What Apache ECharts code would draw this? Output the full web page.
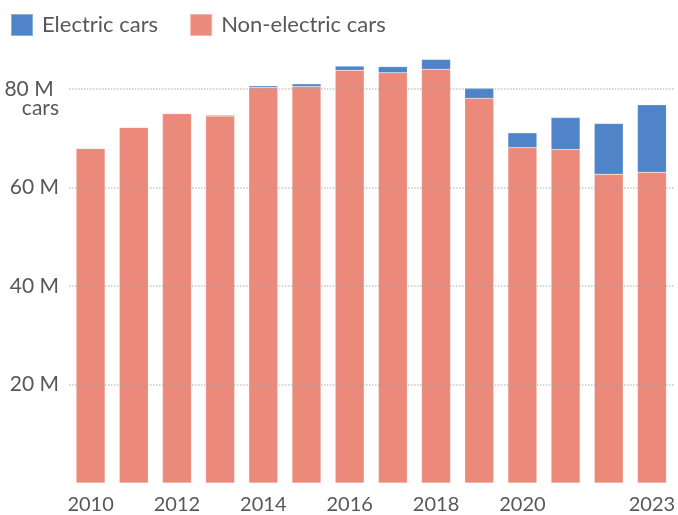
<!DOCTYPE html>
<html>
<head>
<meta charset="utf-8">
<title>Car sales</title>
<script src="https://cdn.jsdelivr.net/npm/echarts@6/dist/echarts.min.js"></script>
<style>
  html, body { margin: 0; padding: 0; background: #fff; }
  #main { width: 678px; height: 515px; }
</style>
</head>
<body>
<div id="main"></div>
<script>
  // values in millions of cars
  var years = ['2010', '2011', '2012', '2013', '2014', '2015', '2016',
               '2017', '2018', '2019', '2020', '2021', '2022', '2023'];
  var electric = [0.02, 0.05, 0.12, 0.2, 0.35, 0.55, 0.85, 1.25, 2.0, 2.05, 3.0, 6.5, 10.3, 13.7];
  var nonElectric = [67.9, 72.2, 75.0, 74.5, 80.3, 80.5, 83.8, 83.3, 84.0, 78.1, 68.1, 67.7, 62.7, 63.1];
  var shownYears = ['2010', '2012', '2014', '2016', '2018', '2020', '2023'];

  var textColor = '#585858';
  var chart = echarts.init(document.getElementById('main'));

  chart.setOption({
    animation: false,
    textStyle: { fontFamily: 'Lato' },
    legend: {
      left: 10,
      top: 13,
      padding: 0,
      itemWidth: 22,
      itemHeight: 22,
      itemGap: 31,
      icon: 'rect',
      textStyle: { color: textColor, fontSize: 22, fontFamily: 'Lato', padding: [0, 0, 0, 4] },
      data: ['Electric cars', 'Non-electric cars']
    },
    grid: { left: 69, right: 1, top: 89, bottom: 28, containLabel: false },
    xAxis: {
      type: 'category',
      data: years,
      axisLine: { show: false },
      axisTick: { show: false },
      axisLabel: {
        color: textColor,
        fontSize: 20,
        margin: 12,
        interval: function (i, v) { return shownYears.indexOf(v) >= 0; }
      }
    },
    yAxis: {
      type: 'value',
      min: 0,
      max: 80,
      interval: 20,
      z: 5,
      axisLine: { show: false },
      axisTick: { show: false },
      splitLine: {
        showMinLine: false,
        lineStyle: { color: 'rgba(160,160,160,0.6)', width: 1.5, type: [1.5, 1.5] }
      },
      axisLabel: {
        color: textColor,
        fontSize: 21,
        margin: 10,
        showMinLabel: false,
        formatter: function (v) {
          if (v === 0) return '';
          if (v === 80) return '{a| }\n{a|80 M }\n{a|cars}';
          return '{a|' + v + ' M}';
        },
        rich: {
          a: { color: textColor, fontSize: 21, lineHeight: 19, fontFamily: 'Lato', align: 'right' }
        }
      }
    },
    series: [
      {
        name: 'Non-electric cars',
        type: 'bar',
        stack: 'cars',
        clip: false,
        barCategoryGap: '33%',
        itemStyle: { color: '#eb8a7b', borderColor: 'rgba(255,255,255,0.35)', borderWidth: 0.5 },
        data: nonElectric
      },
      {
        name: 'Electric cars',
        type: 'bar',
        stack: 'cars',
        clip: false,
        itemStyle: { color: '#4f84c9', borderColor: 'rgba(255,255,255,0.35)', borderWidth: 0.5 },
        data: electric
      }
    ]
  });
</script>
</body>
</html>
